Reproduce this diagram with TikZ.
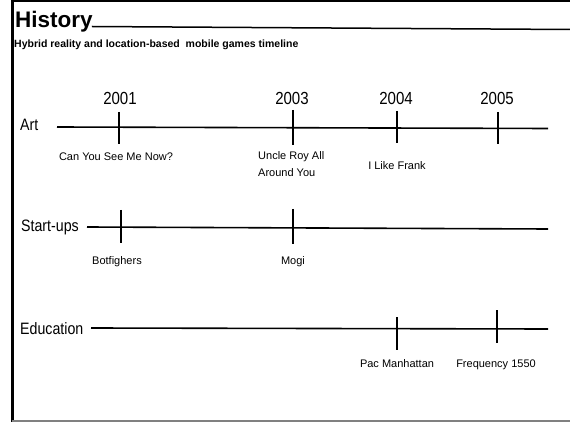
\documentclass[tikz,border=0pt]{standalone}
\usepackage{fontspec}
\setmainfont{Liberation Sans}
\usetikzlibrary{positioning}
\newcommand{\narrowtext}[1]{\scalebox{0.86}[1]{#1}}
\tikzset{
    frame/.style={line width=2pt},
    titletext/.style={anchor=base west, inner sep=0pt, font=\fontsize{22.5}{24}\selectfont\bfseries},
    subtitletext/.style={anchor=base west, inner sep=0pt, font=\fontsize{10.5}{12}\selectfont\bfseries},
    rowname/.style={anchor=base west, inner sep=0pt, font=\fontsize{16.5}{18}\selectfont},
    yearname/.style={anchor=base, inner sep=0pt, font=\fontsize{17.5}{19}\selectfont},
    event/.style={anchor=base, inner sep=0pt, align=center, font=\fontsize{11}{17}\selectfont},
    timeline/.style={line width=1.6pt},
    marker/.style={line width=1.4pt},
}

\begin{document}
\begin{tikzpicture}[x=1pt, y=-1pt]
    \useasboundingbox (0,0) rectangle (570,422);

    % frame and heading
    \draw[frame, line width=3pt] (12,0) -- (12,422);
    \draw[frame] (12,1.5) -- (570,1.5);
    \draw[frame, gray] (12,421) -- (570,421);
    \node[titletext] (title) at (15,28) {History};
    \draw[line width=1.5pt] (title.base east) ++(-1,-1.5) -- (570,29.5);
    \node[subtitletext] (subtitle) at (14,48) {Hybrid reality and location-based\ \ mobile games timeline};

    % years
    \node[yearname] (y2001) at (120,105) {\narrowtext{2001}};
    \node[yearname] (y2003) at (292,105) {\narrowtext{2003}};
    \node[yearname] (y2004) at (396,105) {\narrowtext{2004}};
    \node[yearname] (y2005) at (497,105) {\narrowtext{2005}};

    % Art
    \node[rowname] (art) at (20,131) {\narrowtext{Art}};
    \coordinate (artstart) at (57,127);
    \coordinate (artend) at (548,128.5);
    \draw[timeline] (artstart) -- (artend);
    \coordinate (a1t) at (119,112); \coordinate (a1b) at (119,144);
    \coordinate (a2t) at (293,110); \coordinate (a2b) at (293,145);
    \coordinate (a3t) at (397,111); \coordinate (a3b) at (397,143);
    \coordinate (a4t) at (498,112); \coordinate (a4b) at (498,144);
    \draw[marker] (a1t) -- (a1b);
    \draw[marker] (a2t) -- (a2b);
    \draw[marker] (a3t) -- (a3b);
    \draw[marker] (a4t) -- (a4b);
    \node[event] (cysmn) at (116,161) {Can You See Me Now?};
    \node[event, align=left, anchor=north west] (uncleroy) at (258,151) {Uncle Roy All\\Around You};
    \node[event] (likefrank) at (397,170) {I Like Frank};

    % Start-ups
    \node[rowname] (startups) at (21,231) {\narrowtext{Start-ups}};
    \coordinate (ststart) at (87,227);
    \coordinate (stend) at (548,229);
    \draw[timeline] (ststart) -- (stend);
    \coordinate (s1t) at (121,210); \coordinate (s1b) at (121,243);
    \coordinate (s2t) at (293,209); \coordinate (s2b) at (293,244);
    \draw[marker] (s1t) -- (s1b);
    \draw[marker] (s2t) -- (s2b);
    \node[event] (botfighers) at (117,264) {Botfighers};
    \node[event] (mogi) at (293,264) {Mogi};

    % Education
    \node[rowname] (education) at (20,334) {\narrowtext{Education}};
    \coordinate (edstart) at (91,328);
    \coordinate (edend) at (548,329);
    \draw[timeline] (edstart) -- (edend);
    \coordinate (e1t) at (397,317); \coordinate (e1b) at (397,350);
    \coordinate (e2t) at (497,310); \coordinate (e2b) at (497,343);
    \draw[marker] (e1t) -- (e1b);
    \draw[marker] (e2t) -- (e2b);
    \node[event] (pacman) at (397,367) {Pac Manhattan};
    \node[event] (freq) at (496,367) {Frequency 1550};
\end{tikzpicture}
\end{document}
